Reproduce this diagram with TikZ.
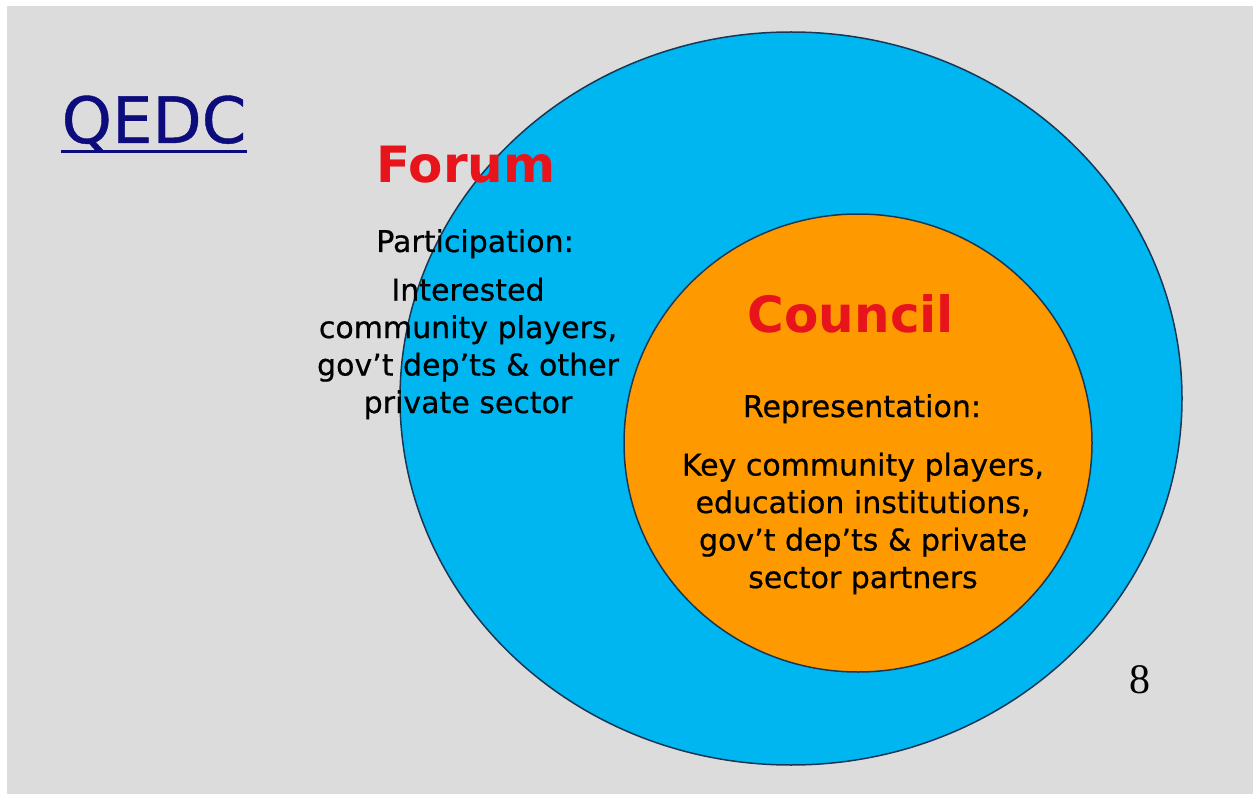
\documentclass[tikz,border=0pt]{standalone}
\usepackage{fontspec}
\setmainfont{DejaVu Sans}
\newfontfamily\slidetext{DejaVu Sans}[FakeBold=0.6]
\newfontfamily\pagenumfont{Liberation Serif}
\usetikzlibrary{positioning}

\definecolor{slidegray}{RGB}{220,220,220}
\definecolor{forumblue}{RGB}{0,182,240}
\definecolor{councilorange}{RGB}{255,153,0}
\definecolor{headred}{RGB}{232,20,28}
\definecolor{qedcnavy}{RGB}{12,12,125}
\definecolor{rimline}{RGB}{25,55,85}

\tikzset{
  heading/.style={text=headred, inner sep=0, anchor=base, font=\bfseries\fontsize{50}{54}\selectfont},
  subhead/.style={inner sep=0, anchor=base, font=\slidetext\fontsize{30}{37}\selectfont},
  % multi-line blocks: base is the last line
  bodytext/.style={inner sep=0, anchor=base, align=center, font=\slidetext\fontsize{30}{37.5}\selectfont}
}

\begin{document}
\begin{tikzpicture}[x=1pt, y=-1pt]

  % slide background
  \fill[white] (0,0) rectangle (1253,794);
  \fill[slidegray] (7,6) rectangle (1253,794);

  % outer ring: forum
  \draw[fill=forumblue, draw=rimline, line width=1.5] (791,398.5) ellipse [x radius=391, y radius=366.5];

  % inner ring: council
  \draw[fill=councilorange, draw=rimline, line width=1.5] (858,443) ellipse [x radius=234, y radius=229];

  % title
  \node[text=qedcnavy, inner sep=0, anchor=base, font=\slidetext\fontsize{64}{68}\selectfont] (qedc) at (154,143) {QEDC};
  \draw[qedcnavy, line width=3] ([yshift=-9]qedc.base west) -- ([yshift=-9]qedc.base east);

  % forum texts
  \node[heading] (forum) at (466,183) {Forum};
  \node[subhead] (participation) at (475,252) {Participation:};
  \node[bodytext] (forumwho) at (468,413) {Interested\\community players,\\gov’t dep’ts \& other\\private sector};

  % council texts
  \node[heading] (council) at (851,333) {Council};
  \node[subhead] (representation) at (862,417) {Representation:};
  \node[bodytext] (councilwho) at (863,588) {Key community players,\\education institutions,\\gov’t dep’ts \& private\\sector partners};

  % page number
  \node[inner sep=0, anchor=base, font=\pagenumfont\fontsize{42}{44}\selectfont] (pagenum) at (1140,693) {8};
\end{tikzpicture}
\end{document}
